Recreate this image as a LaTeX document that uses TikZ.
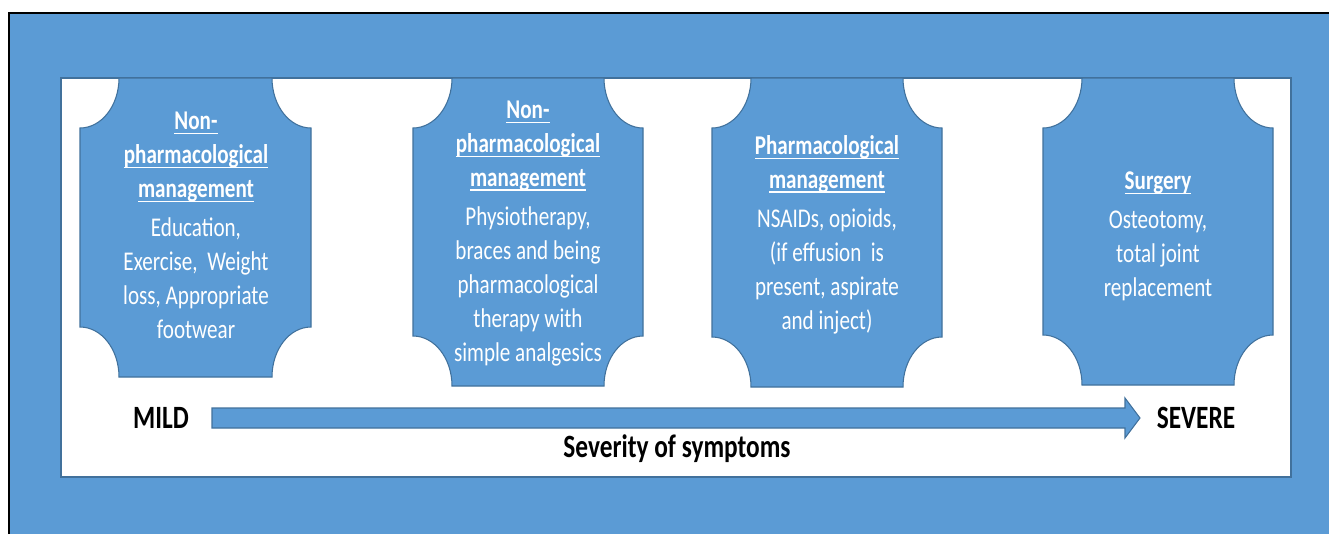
\documentclass[tikz,border=0pt]{standalone}
\usepackage{fontspec}
\setmainfont[FakeStretch=0.78]{Carlito}
\usepackage{mathtools}
\usepackage{amsmath}
\usepackage{amssymb}

\definecolor{slide}{HTML}{5B9BD5}
\definecolor{rim}{HTML}{41719C}

% plaque with scooped corners: left, right, top, bottom
\newcommand{\plaque}[4]{%
  \filldraw [fill=slide, draw=rim, line width=0.6pt]
    (#1+3.9,#3) -- (#2-3.9,#3)
    arc [start angle=180, end angle=270, x radius=3.9, y radius=5]
    -- (#2,#4+5)
    arc [start angle=90, end angle=180, x radius=3.9, y radius=5]
    -- (#1+3.9,#4)
    arc [start angle=0, end angle=90, x radius=3.9, y radius=5]
    -- (#1,#3-5)
    arc [start angle=-90, end angle=0, x radius=3.9, y radius=5]
    -- cycle;
}
\newcommand{\boxhead}[1]{\underline{\smash{\textbf{#1}}}}

\begin{document}
\begin{tikzpicture}[scale=0.2,
    boxtext/.style={text=white, align=center, font=\fontsize{15.4}{19.3}\selectfont},
    scaletext/.style={text=black, font=\fontsize{18.5}{22}\selectfont\bfseries}]
  \tikzstyle{every node}+=[inner sep=0pt]
  \useasboundingbox (0,0) rectangle (132.9,-53.4);
  \fill [slide] (0.9,-1.3) rectangle (132.9,-53.4);
  \draw [black, line width=1.1pt] (0.9,-53.4) -- (0.9,-1.3) -- (132.9,-1.3);
  \filldraw [fill=white, draw=rim, line width=0.6pt] (6.1,-7.8) rectangle (129.1,-47.7);
  \plaque{8.0}{31.1}{-7.8}{-37.7}
  \plaque{41.3}{64.3}{-7.8}{-38.6}
  \plaque{71.2}{94.2}{-7.8}{-38.7}
  \plaque{104.3}{127.3}{-7.8}{-38.5}
  \node [boxtext] (nonpharm) at (19.6,-23.4) {\boxhead{Non-}\\ \boxhead{pharmacological}\\ \boxhead{management}\\[3pt]
    Education,\\ Exercise, \ Weight\\ loss, Appropriate\\ footwear};
  \node [boxtext] (physio) at (52.8,-24.2) {\boxhead{Non-}\\ \boxhead{pharmacological}\\ \boxhead{management}\\[3pt]
    Physiotherapy,\\ braces and being\\ pharmacological\\ therapy with\\ simple analgesics};
  \node [boxtext] (pharm) at (82.7,-24.4) {\boxhead{Pharmacological}\\ \boxhead{management}\\[3pt]
    NSAIDs, opioids,\\ (if effusion \ is\\ present, aspirate\\ and inject)};
  \node [boxtext] (surgery) at (115.8,-24.5) {\boxhead{Surgery}\\[3pt]
    Osteotomy,\\ total joint\\ replacement};
  % severity scale
  \filldraw [fill=slide, draw=rim, line width=0.6pt] (21.2,-40.8) -- (112.5,-40.8) -- (112.5,-39.8)
    -- (114.0,-41.8) -- (112.5,-43.8) -- (112.5,-42.8) -- (21.2,-42.8) -- cycle;
  \node [scaletext] (mild) at (16.1,-41.8) {MILD};
  \node [scaletext] (severe) at (119.6,-41.8) {SEVERE};
  \node [scaletext] (severity) at (67.7,-44.9) {Severity of symptoms};
\end{tikzpicture}
\end{document}
